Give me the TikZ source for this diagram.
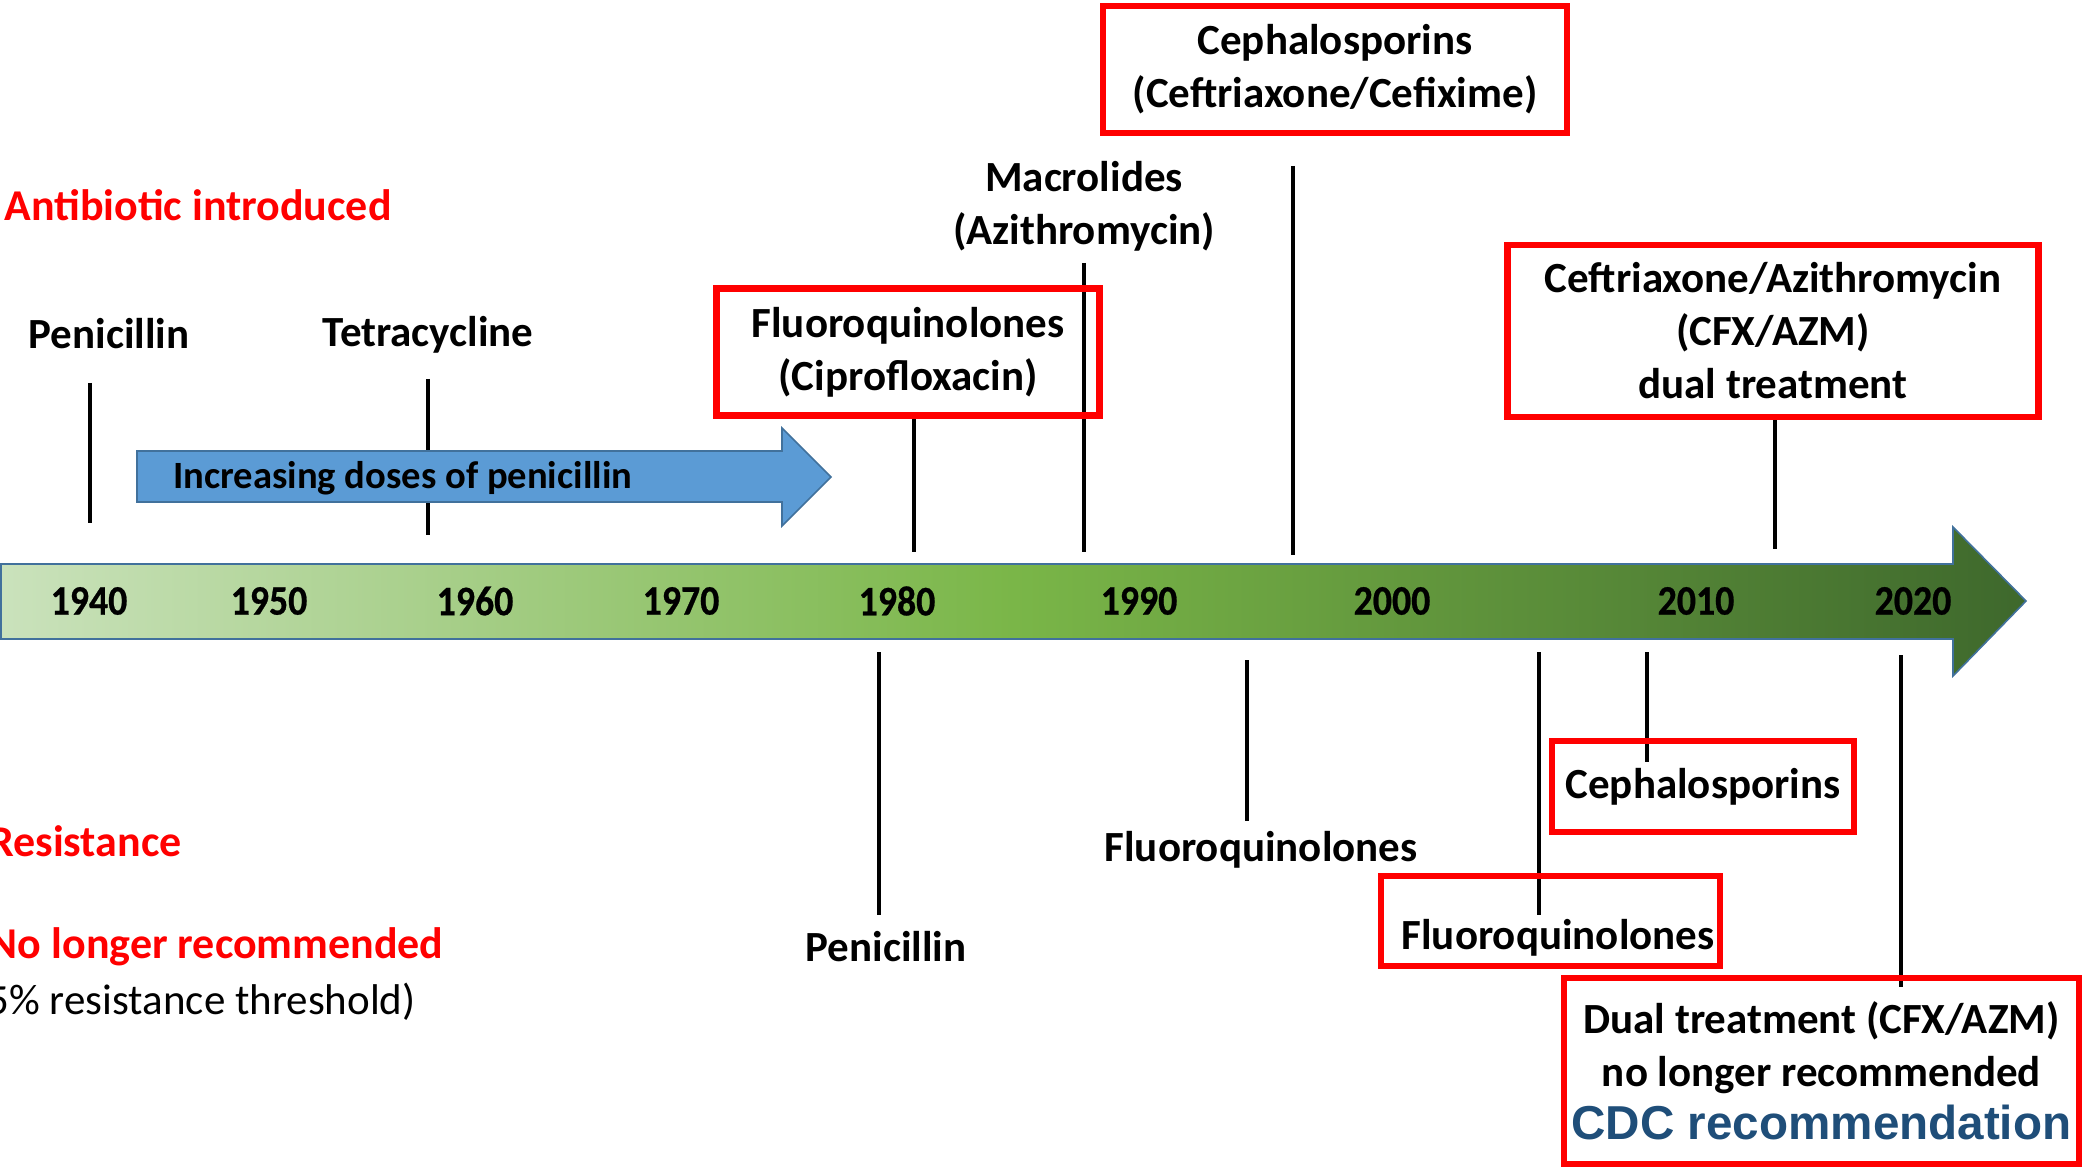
\documentclass[tikz,border=0pt]{standalone}
\usepackage{fontspec}
\setmainfont{Carlito}
\newfontfamily\arialfont{Liberation Sans}
\definecolor{alertred}{RGB}{255, 0, 0}
\definecolor{cdcblue}{RGB}{31, 78, 121}
\definecolor{dosesblue}{RGB}{91, 155, 213}
\definecolor{edgeblue}{RGB}{65, 113, 156}
\definecolor{greenlight}{RGB}{202, 226, 188}
\definecolor{greenmid}{RGB}{122, 182, 72}
\definecolor{greendark}{RGB}{62, 104, 44}
\usetikzlibrary{positioning}

\tikzset{
  lbl/.style={font=\bfseries\fontsize{21.5}{26.5}\selectfont, align=center, inner sep=0pt},
  redlbl/.style={lbl, font=\bfseries\fontsize{22}{26.5}\selectfont, text=alertred},
  yearlbl/.style={font=\bfseries\fontsize{21}{24}\selectfont\addfontfeature{FakeStretch=0.9, FakeBold=0.6}, inner sep=0pt},
  redbox/.style={lbl, draw=alertred, line width=3.4pt},
  tick/.style={line width=2.4pt},
}

\begin{document}
\begin{tikzpicture}[x=0.5pt, y=-0.5pt]
        \useasboundingbox (0,0) rectangle (2086,1170);

        % timeline
        \draw[edgeblue, line width=0.8pt, left color=greenlight, right color=greendark, middle color=greenmid]
          (1,564) -- (1953,564) -- (1953,527) -- (2026,601) -- (1953,676) -- (1953,639) -- (1,639) -- cycle;
        \foreach \yr/\x in {1940/89, 1950/269, 1960/475, 1970/681, 1980/897, 1990/1139, 2000/1392, 2010/1696, 2020/1913}
          \node[yearlbl] (y\yr) at (\x,601) {\yr};

        % ticks
        \foreach \n/\x/\ya/\yb in {penT/90/383/523, tetT/428/379/535, fqT/914/419/552, macT/1084/263/552,
                                   cephT/1293/166/555, dualT/1775/420/549, penR/879/652/915, fqR/1247/660/821,
                                   fqN/1539/652/915, cephN/1647/652/762, dualN/1901/655/987} {
          \coordinate (\n a) at (\x,\ya);
          \coordinate (\n b) at (\x,\yb);
          \draw[tick] (\n a) -- (\n b);
        }

        % penicillin doses
        \draw[edgeblue, fill=dosesblue, line width=0.8pt]
          (137,451) -- (782,451) -- (782,428) -- (831,477) -- (782,526) -- (782,502) -- (137,502) -- cycle;
        \node[lbl, font=\bfseries\fontsize{19.3}{22}\selectfont, anchor=west] (doses) at (173,478) {Increasing doses of penicillin};

        % legend
        \node[redlbl, anchor=west] (introLbl) at (4,205) {Antibiotic introduced};
        \node[redlbl, anchor=east] (resLbl) at (182,841) {Resistance};
        \node[redlbl, anchor=east] (nlrLbl) at (444,947) {No longer recommended};
        \node[lbl, font=\fontsize{21.5}{26.5}\selectfont, anchor=east] (threshLbl) at (416,1002) {(5\% resistance threshold)};

        % introduced
        \node[lbl] (penIntro) at (109,334) {Penicillin};
        \node[lbl] (tetIntro) at (428,335) {Tetracycline};
        \node[redbox, minimum width=191.5pt, minimum height=63.5pt] (fqIntro) at (908,352) {Fluoroquinolones\\(Ciprofloxacin)};
        \node[lbl] (macIntro) at (1084,206) {Macrolides\\(Azithromycin)};
        \node[redbox, minimum width=232pt, minimum height=63.5pt] (cephIntro) at (1335,69.5) {Cephalosporins\\(Ceftriaxone/Cefixime)};
        \node[redbox, minimum width=265.5pt, minimum height=86pt] (dualIntro) at (1773,331) {Ceftriaxone/Azithromycin\\(CFX/AZM)\\dual treatment};

        % resistance
        \node[lbl] (penRes) at (886,947) {Penicillin};
        \node[lbl] (fqRes) at (1261,850) {Fluoroquinolones};
        \node[redbox, minimum width=151pt, minimum height=45.5pt] (cephRes) at (1703,786.5) {Cephalosporins};
        \node[redbox, minimum width=169.5pt, minimum height=45pt] (fqNlr) at (1550.5,921) {};
        \node[lbl] (fqNlrTxt) at (1558,938) {Fluoroquinolones};
        \node[redbox, minimum width=257.5pt, minimum height=93pt] (dualNlr) at (1821.5,1071)
          {Dual treatment (CFX/AZM)\\no longer recommended\\{\arialfont\fontsize{23.8}{26.5}\selectfont\color{cdcblue}CDC recommendation}};
      \end{tikzpicture}
\end{document}
